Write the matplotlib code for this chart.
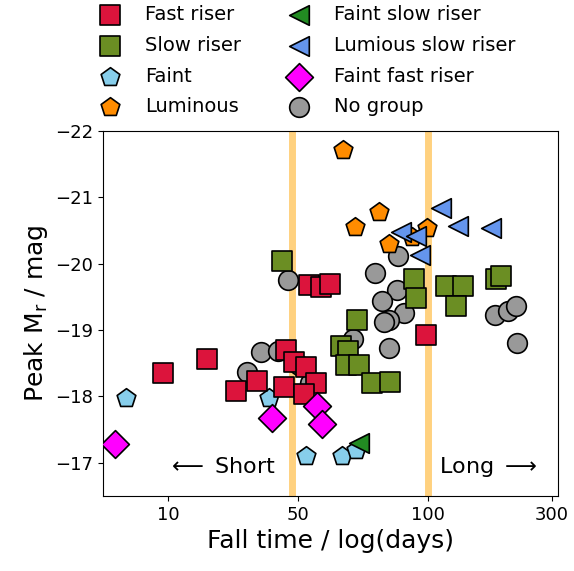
from matplotlib import pyplot as plt
import numpy as np

# fall time is log10(days), peak magnitude in r band
fast_x = [0.980, 1.149, 1.260, 1.341, 1.453, 1.483, 1.530, 1.445, 1.568, 1.522, 1.541, 1.587, 1.622, 1.991]
fast_y = [-18.36, -18.57, -18.09, -18.24, -18.70, -18.52, -18.45, -18.15, -18.21, -18.03, -19.68, -19.65, -19.70, -18.93]

slow_x = [1.437, 1.945, 1.953, 1.726, 1.664, 1.691, 1.683, 1.733, 1.783, 1.853, 2.068, 2.134, 2.107, 2.261, 2.280]
slow_y = [-20.04, -19.77, -19.48, -19.15, -18.76, -18.69, -18.48, -18.47, -18.21, -18.22, -19.67, -19.67, -19.36, -19.77, -19.82]

faint_x = [0.837, 1.387, 1.530, 1.668, 1.722]
faint_y = [-17.98, -17.98, -17.10, -17.11, -17.20]

lum_x = [1.672, 1.810, 1.718, 1.995, 1.849, 1.937]
lum_y = [-21.71, -20.78, -20.55, -20.54, -20.30, -20.40]

faint_slow_x = [1.734]
faint_slow_y = [-17.30]

lum_slow_x = [2.049, 2.114, 2.241, 1.895, 1.953, 1.968]
lum_slow_y = [-20.84, -20.57, -20.54, -20.48, -20.42, -20.13]

faint_fast_x = [0.795, 1.399, 1.572, 1.591]
faint_fast_y = [-17.28, -17.67, -17.86, -17.59]

nogroup_x = [1.460, 1.357, 1.303, 1.422, 1.503, 1.545, 1.883, 1.795, 1.880, 1.822,
             1.906, 1.849, 1.830, 1.711, 1.849, 2.257, 2.307, 2.337, 2.341]
nogroup_y = [-19.76, -18.67, -18.37, -18.69, -18.48, -18.21, -20.12, -19.86, -19.61, -19.44,
             -19.26, -19.15, -19.12, -18.87, -18.73, -19.23, -19.29, -19.36, -18.81]

xtick_pos = [1, 1.5, 2, np.log10(300)]
xtick_labels = ["10", "50", "100", "300"]
split_lines = [np.log10(30), 2.0]

fig = plt.figure(figsize=(5.74, 5.71), dpi=100)
ax = fig.add_axes([0.1794, 0.1313, 0.7927, 0.6392])

for v in split_lines:
    ax.axvline(v, color="orange", alpha=0.5, lw=5, zorder=1)

kw = dict(s=200, edgecolors="k", linewidths=1.2)
h_slow = ax.scatter(slow_x, slow_y, marker="s", c="olivedrab", label="Slow riser", zorder=3, **kw)
h_lum = ax.scatter(lum_x, lum_y, marker="p", c="darkorange", label="Luminous", zorder=3, **kw)
h_none = ax.scatter(nogroup_x, nogroup_y, marker="o", c="#999999", label="No group", zorder=2, **kw)
h_fast = ax.scatter(fast_x, fast_y, marker="s", c="crimson", label="Fast riser", zorder=4, **kw)
h_faint = ax.scatter(faint_x, faint_y, marker="p", c="skyblue", label="Faint", zorder=3, **kw)
h_ff = ax.scatter(faint_fast_x, faint_fast_y, marker="D", c="magenta", label="Faint fast riser", zorder=5, **kw)
h_ls = ax.scatter(lum_slow_x, lum_slow_y, marker="<", c="cornflowerblue", label="Lumious slow riser", zorder=5, **kw)
h_fs = ax.scatter(faint_slow_x, faint_slow_y, marker="<", c="forestgreen", label="Faint slow riser", zorder=5, **kw)

ax.text(1.207, -16.94, r"$\longleftarrow$ Short", fontsize=16, ha="center", va="center")
ax.text(2.233, -16.94, r"Long $\longrightarrow$", fontsize=16, ha="center", va="center")

ax.set_xlim(0.75, 2.5)
ax.set_ylim(-16.5, -22)
ax.set_xticks(xtick_pos, xtick_labels)
ax.set_yticks([-22, -21, -20, -19, -18, -17])
ax.tick_params(labelsize=13)
ax.set_xlabel("Fall time / log(days)", fontsize=18)
ax.set_ylabel(r"Peak M$_{\rm r}$ / mag", fontsize=18)

handles = [h_fast, h_slow, h_faint, h_lum, h_fs, h_ls, h_ff, h_none]
fig.legend(handles=handles, loc="upper left", bbox_to_anchor=(0.144, 1.004), ncol=2,
           frameon=False, fontsize=14, labelspacing=0.6, borderaxespad=0)

plt.savefig("out.png", dpi=100)
